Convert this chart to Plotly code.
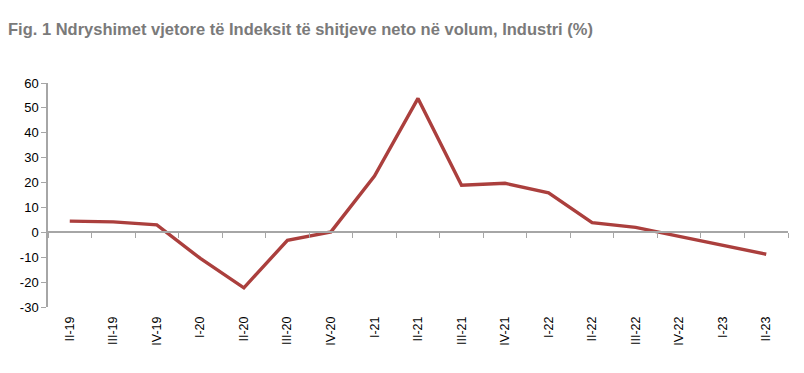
import plotly.graph_objects as go

categories = ["II-19", "III-19", "IV-19", "I-20", "II-20", "III-20", "IV-20",
              "I-21", "II-21", "III-21", "IV-21", "I-22", "II-22", "III-22",
              "IV-22", "I-23", "II-23"]
values = [4.5, 4.2, 3.0, -10.5, -22.3, -3.2, 0.2,
          22.6, 53.8, 18.9, 19.7, 15.9, 3.9, 2.0,
          -1.6, -5.2, -8.8]
y_ticks = [-30, -20, -10, 0, 10, 20, 30, 40, 50, 60]

title_text = "Fig. 1 Ndryshimet vjetore të Indeksit të shitjeve neto në volum, Industri (%)"

W, H = 804, 373
ml, mr, mt, mb = 48, 16, 83, 66

fig = go.Figure()
fig.add_trace(go.Scatter(x=categories, y=values, mode="lines",
                         line=dict(color="#ab3f3d", width=3.4),
                         xaxis="x", yaxis="y", hoverinfo="x+y"))
# invisible trace to carry the bottom label axis
fig.add_trace(go.Scatter(x=categories, y=values, mode="lines",
                         line=dict(width=0), opacity=0, showlegend=False,
                         xaxis="x2", yaxis="y", hoverinfo="skip"))

ymin, ymax = -30, 60
zero_pos = (0 - ymin) / (ymax - ymin)

axis_gray = "#a6a6a6"
fig.update_layout(
    width=W, height=H,
    margin=dict(l=ml, r=mr, t=mt, b=mb, autoexpand=False),
    paper_bgcolor="white", plot_bgcolor="white",
    showlegend=False,
    title=dict(text=title_text, x=8 / W, xanchor="left", xref="container",
               y=1 - 29 / H, yanchor="middle", yref="container",
               pad=dict(l=0, r=0, t=0, b=0),
               font=dict(family="Liberation Sans Narrow, Arial Narrow, Liberation Sans, Arial",
                         size=16.5, color="#7a7a7a", weight="bold")),
    xaxis=dict(type="category", categoryorder="array", categoryarray=categories,
               range=[-0.5, len(categories) - 0.5],
               anchor="free", position=zero_pos, automargin=False,
               showline=True, linecolor=axis_gray, linewidth=1.5,
               ticks="outside", tickson="boundaries", ticklen=5, tickcolor=axis_gray,
               showticklabels=False, showgrid=False, zeroline=False),
    xaxis2=dict(type="category", categoryorder="array", categoryarray=categories,
                range=[-0.5, len(categories) - 0.5], automargin=False,
                overlaying="x", anchor="y", side="bottom",
                showline=False, ticks="", showgrid=False, zeroline=False,
                tickangle=-90, ticklabelstandoff=6,
                tickfont=dict(family="Liberation Sans, Arial", size=12.5, color="#000000")),
    yaxis=dict(range=[ymin, ymax], tickvals=y_ticks, ticktext=[str(v) for v in y_ticks],
               automargin=False,
               showline=True, linecolor=axis_gray, linewidth=1.5,
               ticks="outside", ticklen=5, tickcolor=axis_gray,
               showgrid=False, zeroline=False,
               tickfont=dict(family="Liberation Sans, Arial", size=13, color="#000000")),
)

fig.write_html("out.html", config={"displayModeBar": False},
               post_script="document.body.style.margin='0px';document.body.style.padding='0px';")
